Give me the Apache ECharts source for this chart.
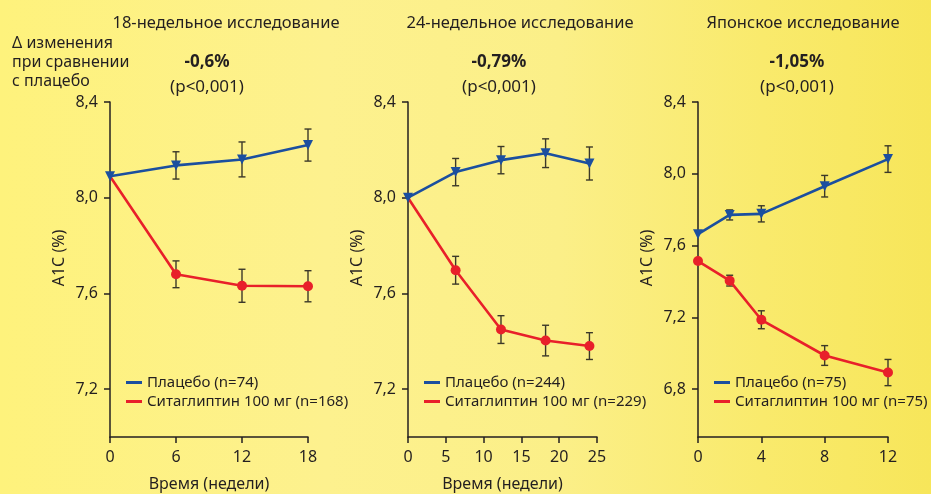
<!DOCTYPE html>
<html>
<head>
<meta charset="utf-8">
<script src="https://cdn.jsdelivr.net/npm/echarts@6/dist/echarts.min.js"></script>
<style>
  html, body { margin: 0; padding: 0; }
  #chart {
    width: 931px; height: 494px;
    background: linear-gradient(90deg, #fef27c 0%, #fdf18e 35%, #fbef88 60%, #f9ea6c 82%, #f7e65a 100%);
  }
</style>
</head>
<body>
<div id="chart"></div>
<script>
// A1C (%) over time, placebo vs sitagliptin 100 mg, three studies
const weeks1 = [0, 6, 12, 18];
const placebo1 = [8.09, 8.135, 8.16, 8.22];
const placeboErr1 = [0, 0.057, 0.073, 0.067];
const sita1 = [8.09, 7.68, 7.632, 7.63];
const sitaErr1 = [0, 0.056, 0.069, 0.065];

const weeks2 = [0, 6.3, 12.3, 18.2, 24];
const placebo2 = [8.0, 8.107, 8.157, 8.186, 8.143];
const placeboErr2 = [0, 0.057, 0.057, 0.06, 0.069];
const sita2 = [8.0, 7.697, 7.449, 7.403, 7.38];
const sitaErr2 = [0, 0.058, 0.058, 0.064, 0.056];

const weeks3 = [0, 2, 4, 8, 12];
const placebo3 = [7.664, 7.771, 7.777, 7.931, 8.082];
const placeboErr3 = [0, 0.028, 0.045, 0.06, 0.074];
const sita3 = [7.514, 7.405, 7.187, 6.988, 6.893];
const sitaErr3 = [0, 0.03, 0.05, 0.055, 0.073];

const titles = ['18-недельное исследование', '24-недельное исследование', 'Японское исследование'];
const diffs = ['-0,6%', '-0,79%', '-1,05%'];
const pValues = ['(p<0,001)', '(p<0,001)', '(p<0,001)'];
const placeboNames = ['Плацебо (n=74)', 'Плацебо (n=244)', 'Плацебо (n=75)'];
const sitaNames = ['Ситаглиптин 100 мг (n=168)', 'Ситаглиптин 100 мг (n=229)', 'Ситаглиптин 100 мг (n=75)'];
const yTicks1 = [7.2, 7.6, 8.0, 8.4];
const yTicks2 = [7.2, 7.6, 8.0, 8.4];
const yTicks3 = [6.8, 7.2, 7.6, 8.0, 8.4];
const xAxisTitle = 'Время (недели)';
const yAxisTitle = 'A1C (%)';
const sideNote = ['Δ изменения', 'при сравнении', 'с плацебо'];

const FONT = '"Noto Sans", "Open Sans", sans-serif';
const INK = '#231f20';
const BLUE = '#1b4f9f';
const RED = '#e8202a';
const BAR = '#3b3829';

const panels = [
  { weeks: weeks1, p: placebo1, pe: placeboErr1, s: sita1, se: sitaErr1, ticks: yTicks1,
    xmax: 18, xint: 6, ymin: 7.0, grid: { left: 110, width: 198 }, xName: xAxisTitle, sitaStartHidden: true },
  { weeks: weeks2, p: placebo2, pe: placeboErr2, s: sita2, se: sitaErr2, ticks: yTicks2,
    xmax: 25, xint: 5, ymin: 7.0, grid: { left: 408, width: 189 }, xName: xAxisTitle, sitaStartHidden: true },
  { weeks: weeks3, p: placebo3, pe: placeboErr3, s: sita3, se: sitaErr3, ticks: yTicks3,
    xmax: 12, xint: 4, ymin: 6.534, grid: { left: 698, width: 190 }, xName: '', sitaStartHidden: false }
];

const fmt = v => v.toFixed(1).replace('.', ',');

function errorBars(i, weeks, means, errs) {
  return {
    type: 'custom',
    xAxisIndex: i, yAxisIndex: i,
    z: 1,
    silent: true,
    encode: { x: 0, y: 1 },
    data: weeks.map((w, k) => [w, means[k], errs[k]]),
    renderItem(params, api) {
      const x = api.value(0), y = api.value(1), e = api.value(2);
      if (!e) return;
      const top = api.coord([x, y + e]);
      const bot = api.coord([x, y - e]);
      const cap = 3.5;
      const st = { stroke: BAR, lineWidth: 1.4 };
      return {
        type: 'group',
        children: [
          { type: 'line', shape: { x1: top[0], y1: top[1], x2: bot[0], y2: bot[1] }, style: st },
          { type: 'line', shape: { x1: top[0] - cap, y1: top[1], x2: top[0] + cap, y2: top[1] }, style: st },
          { type: 'line', shape: { x1: bot[0] - cap, y1: bot[1], x2: bot[0] + cap, y2: bot[1] }, style: st }
        ]
      };
    }
  };
}

const grids = [], xAxes = [], yAxes = [], series = [], legends = [], graphics = [];

panels.forEach((pn, i) => {
  grids.push({ left: pn.grid.left, width: pn.grid.width, top: 102, height: 335, outerBoundsMode: 'none', containLabel: false });

  xAxes.push({
    gridIndex: i, type: 'value', min: 0, max: pn.xmax, interval: pn.xint,
    name: pn.xName, nameLocation: 'middle', nameGap: 39,
    nameTextStyle: { color: INK, fontSize: 16, fontFamily: FONT },
    axisLine: { lineStyle: { color: INK, width: 1.5 } },
    axisTick: { length: 6, lineStyle: { color: INK, width: 1.5 } },
    axisLabel: { color: INK, fontSize: 16, fontFamily: FONT, margin: 12 },
    splitLine: { show: false }
  });

  yAxes.push({
    gridIndex: i, type: 'value', min: pn.ymin, max: 8.4,
    axisLine: { show: true, lineStyle: { color: INK, width: 1.5 } },
    axisTick: { show: true, length: 6, customValues: pn.ticks, lineStyle: { color: INK, width: 1.5 } },
    axisLabel: { color: INK, fontSize: 16, fontFamily: FONT, margin: 12, customValues: pn.ticks, formatter: fmt },
    splitLine: { show: false }
  });

  series.push(errorBars(i, pn.weeks, pn.s, pn.se));
  series.push(errorBars(i, pn.weeks, pn.p, pn.pe));

  series.push({
    name: sitaNames[i], type: 'line', xAxisIndex: i, yAxisIndex: i, z: 3,
    symbol: 'circle', symbolSize: 10,
    lineStyle: { color: RED, width: 2.6 }, itemStyle: { color: RED },
    data: pn.weeks.map((w, k) => (k === 0 && pn.sitaStartHidden)
      ? { value: [w, pn.s[k]], symbol: 'none' }
      : [w, pn.s[k]])
  });
  series.push({
    name: placeboNames[i], type: 'line', xAxisIndex: i, yAxisIndex: i, z: 4,
    symbol: 'triangle', symbolRotate: 180, symbolSize: 10,
    lineStyle: { color: BLUE, width: 2.6 }, itemStyle: { color: BLUE },
    data: pn.weeks.map((w, k) => [w, pn.p[k]])
  });

  legends.push({
    data: [placeboNames[i], sitaNames[i]],
    orient: 'vertical',
    left: pn.grid.left + 11, top: 370,
    icon: 'rect', itemWidth: 16, itemHeight: 3, itemGap: 4,
    selectedMode: false,
    textStyle: { color: INK, fontSize: 15, fontFamily: FONT }
  });

  const cx = [226, 520, 803][i];
  const nx = [207, 499, 797][i];
  graphics.push({ type: 'text', x: cx, y: 23, style: { text: titles[i], fill: INK, font: '16.5px ' + FONT, align: 'center', verticalAlign: 'middle' } });
  graphics.push({ type: 'text', x: nx, y: 62, style: { text: diffs[i], fill: INK, font: 'bold 17px ' + FONT, align: 'center', verticalAlign: 'middle' } });
  graphics.push({ type: 'text', x: nx, y: 87, style: { text: pValues[i], fill: INK, font: '17px ' + FONT, align: 'center', verticalAlign: 'middle' } });
  graphics.push({ type: 'text', x: pn.grid.left - 51, y: 258, rotation: Math.PI / 2,
    style: { text: yAxisTitle, fill: INK, font: '16px ' + FONT, align: 'center', verticalAlign: 'middle' } });
});

sideNote.forEach((t, k) => {
  graphics.push({ type: 'text', x: 12, y: 43 + k * 19, style: { text: t, fill: INK, font: '16px ' + FONT, align: 'left', verticalAlign: 'middle' } });
});

const chart = echarts.init(document.getElementById('chart'), null, { renderer: 'canvas' });
chart.setOption({
  backgroundColor: 'transparent',
  animation: false,
  grid: grids,
  xAxis: xAxes,
  yAxis: yAxes,
  legend: legends,
  series: series,
  graphic: graphics
});
</script>
</body>
</html>
